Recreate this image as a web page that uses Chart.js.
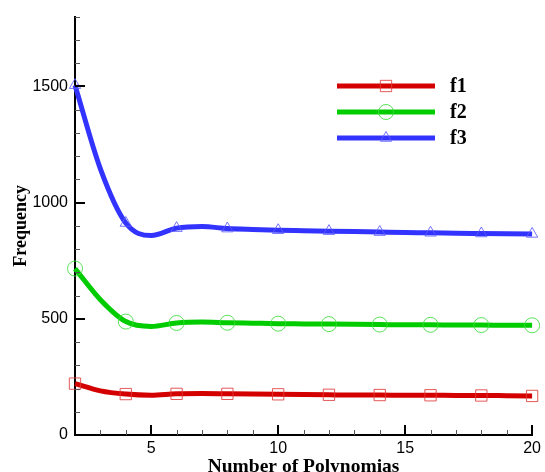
<!DOCTYPE html>
<html>
<head>
<meta charset="utf-8">
<script src="https://cdn.jsdelivr.net/npm/chart.js@4"></script>
<style>
  html, body { margin: 0; padding: 0; background: #fff; }
  #wrap { width: 545px; height: 472px; }
</style>
</head>
<body>
<div id="wrap"><canvas id="chart" width="545" height="472"></canvas></div>
<script>
// data
const xValues = [2, 3, 4, 5, 6, 7, 8, 9, 10, 11, 12, 13, 14, 15, 16, 17, 18, 19, 20];
const f1 = [221, 190, 176, 171, 177, 178, 177, 176, 175, 174, 173, 172, 172, 171, 171, 170, 170, 169, 168];
const f2 = [716, 582, 488, 467, 482, 486, 483, 481, 479, 478, 477, 476, 475, 474, 474, 473, 473, 472, 472];
const f3 = [1505, 1145, 912, 858, 890, 897, 888, 884, 881, 879, 877, 875, 873, 871, 870, 868, 867, 866, 865];
const seriesNames = ['f1', 'f2', 'f3'];
const xTicks = [5, 10, 15, 20];
const yTicks = [0, 500, 1000, 1500];

const lineColors = ['#d40000', '#00cc00', '#3333ff'];
const markColors = ['rgba(225,60,60,0.85)', 'rgba(60,220,60,0.85)', 'rgba(90,90,255,0.85)'];
const markStyles = ['rect', 'circle', 'triangle'];
const markSizes = [8, 7.5, 6.5];

function makeSet(i, values) {
  return {
    label: seriesNames[i],
    data: xValues.map((x, k) => ({ x: x, y: values[k] })),
    borderColor: lineColors[i],
    borderWidth: 5,
    cubicInterpolationMode: 'monotone',
    pointStyle: markStyles[i],
    pointRadius: ctx => (ctx.dataIndex % 2 === 0 ? markSizes[i] : 0),
    pointBorderColor: markColors[i],
    pointBorderWidth: 1,
    pointBackgroundColor: 'rgba(0,0,0,0)',
    clip: false
  };
}

// inward ticks, axis titles and the legend box
const axisDecor = {
  id: 'axisDecor',
  afterDraw(chart) {
    const { ctx, chartArea: a, scales: { x, y } } = chart;
    ctx.save();
    // minor ticks
    ctx.strokeStyle = '#555';
    ctx.lineWidth = 1;
    for (let v = 100; v <= 1800; v += 100) {
      if (v % 500 === 0) continue;
      const py = Math.round(y.getPixelForValue(v)) + 0.5;
      ctx.beginPath(); ctx.moveTo(a.left, py); ctx.lineTo(a.left + 5, py); ctx.stroke();
    }
    for (let v = 3; v <= 20; v++) {
      if (v % 5 === 0) continue;
      const px = Math.round(x.getPixelForValue(v)) + 0.5;
      ctx.beginPath(); ctx.moveTo(px, a.bottom); ctx.lineTo(px, a.bottom - 5); ctx.stroke();
    }
    // major ticks
    ctx.strokeStyle = '#000';
    ctx.lineWidth = 2;
    yTicks.forEach(v => {
      const py = Math.round(y.getPixelForValue(v));
      ctx.beginPath(); ctx.moveTo(a.left, py); ctx.lineTo(a.left + 10, py); ctx.stroke();
    });
    xTicks.forEach(v => {
      const px = Math.round(x.getPixelForValue(v));
      ctx.beginPath(); ctx.moveTo(px, a.bottom); ctx.lineTo(px, a.bottom - 10); ctx.stroke();
    });
    // axis titles
    ctx.fillStyle = '#000';
    ctx.font = 'bold 19.5px "Liberation Serif"';
    ctx.textAlign = 'center';
    ctx.textBaseline = 'alphabetic';
    ctx.fillText('Number of Polynomias', (a.left + a.right) / 2, 472);
    ctx.font = 'bold 18px "Liberation Serif"';
    ctx.save();
    ctx.translate(26, (a.top + a.bottom) / 2);
    ctx.rotate(-Math.PI / 2);
    ctx.fillText('Frequency', 0, 0);
    ctx.restore();
    // legend
    ctx.font = 'bold 20px "Liberation Serif"';
    ctx.textAlign = 'left';
    ctx.textBaseline = 'middle';
    chart.data.datasets.forEach((ds, i) => {
      const ly = 86 + i * 26;
      ctx.strokeStyle = lineColors[i];
      ctx.lineWidth = 5;
      ctx.beginPath(); ctx.moveTo(337, ly); ctx.lineTo(435, ly); ctx.stroke();
      ctx.strokeStyle = markColors[i];
      ctx.fillStyle = 'rgba(0,0,0,0)';
      ctx.lineWidth = 1;
      Chart.helpers.drawPoint(ctx, { pointStyle: markStyles[i], radius: markSizes[i], borderWidth: 1 }, 386, ly);
      ctx.fillStyle = '#000';
      ctx.fillText(ds.label, 450, ly + 1);
    });
    ctx.restore();
  }
};

new Chart(document.getElementById('chart'), {
  type: 'line',
  data: { datasets: [makeSet(0, f1), makeSet(1, f2), makeSet(2, f3)] },
  options: {
    responsive: false,
    animation: false,
    devicePixelRatio: 1,
    layout: { padding: { top: 12, right: 12, left: 0, bottom: 0 } },
    plugins: { legend: { display: false }, tooltip: { enabled: false } },
    scales: {
      x: {
        type: 'linear',
        min: 2,
        max: 20,
        grid: { display: false, drawTicks: false },
        border: { display: true, color: '#000', width: 2 },
        afterBuildTicks: s => { s.ticks = xTicks.map(v => ({ value: v })); },
        afterFit: s => { s.height = 37; },
        ticks: { color: '#000', padding: 4, font: { family: 'Liberation Sans', size: 16 }, callback: v => String(v) }
      },
      y: {
        min: 0,
        max: 1800,
        grid: { display: false, drawTicks: false },
        border: { display: true, color: '#000', width: 2 },
        afterBuildTicks: s => { s.ticks = yTicks.map(v => ({ value: v })); },
        afterFit: s => { s.width = 75; },
        ticks: { color: '#000', padding: 7, font: { family: 'Liberation Sans', size: 16 }, callback: v => String(v) }
      }
    }
  },
  plugins: [axisDecor]
});
</script>
</body>
</html>
